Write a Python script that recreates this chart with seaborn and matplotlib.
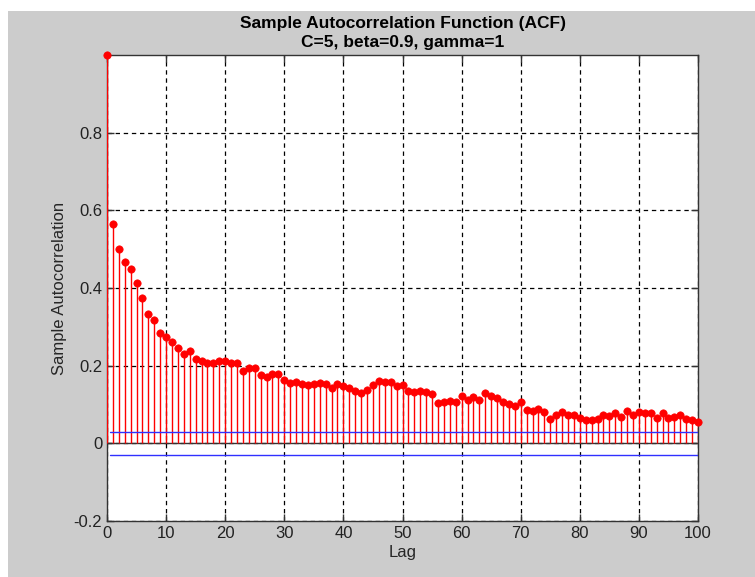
import numpy as np
import pandas as pd
import matplotlib
matplotlib.use("Agg")
import matplotlib.pyplot as plt
from matplotlib.patches import Rectangle
import seaborn as sns

lags = list(range(0, 101))
acf = [1.000,
       0.566, 0.500, 0.466, 0.448, 0.413, 0.374, 0.332, 0.318, 0.283, 0.273,
       0.262, 0.245, 0.230, 0.237, 0.217, 0.213, 0.206, 0.206, 0.213, 0.211,
       0.206, 0.206, 0.185, 0.193, 0.193, 0.176, 0.172, 0.179, 0.179, 0.163,
       0.155, 0.157, 0.152, 0.150, 0.152, 0.155, 0.153, 0.143, 0.152, 0.148,
       0.142, 0.136, 0.129, 0.138, 0.150, 0.161, 0.157, 0.157, 0.148, 0.150,
       0.135, 0.132, 0.136, 0.133, 0.126, 0.103, 0.106, 0.110, 0.107, 0.122,
       0.112, 0.120, 0.112, 0.129, 0.123, 0.116, 0.106, 0.102, 0.097, 0.107,
       0.086, 0.084, 0.088, 0.080, 0.062, 0.073, 0.080, 0.073, 0.073, 0.066,
       0.060, 0.059, 0.062, 0.073, 0.071, 0.078, 0.069, 0.084, 0.073, 0.080,
       0.078, 0.078, 0.065, 0.078, 0.065, 0.067, 0.073, 0.062, 0.059, 0.054]
bound = 0.0296
xticks = list(range(0, 101, 10))
yticks = [-0.2, 0, 0.2, 0.4, 0.6, 0.8]
ytick_labels = ["-0.2", "0", "0.2", "0.4", "0.6", "0.8"]
title = "Sample Autocorrelation Function (ACF)\nC=5, beta=0.9, gamma=1"

df = pd.DataFrame({"Lag": lags, "ACF": acf})

sns.set_theme(style="white")
plt.rcParams['font.family'] = ['Liberation Sans', 'DejaVu Sans']

fig = plt.figure(figsize=(7.55, 5.77), dpi=100, facecolor="white")
fig.patches.append(Rectangle((8 / 755, 0), 1 - 8 / 755, 1 - 11 / 577,
                             transform=fig.transFigure, facecolor="#cccccc",
                             edgecolor="none", zorder=-10))
ax = fig.add_axes([107 / 755, 1 - 521 / 577, (698 - 107) / 755, (521 - 55) / 577])
ax.set_facecolor("white")

# stems
ax.vlines(df["Lag"], 0, df["ACF"], colors="#ff0000", linewidth=1.0, zorder=3)
ax.axhline(0, color="#333333", linewidth=1.0, zorder=2.5)
sns.scatterplot(data=df, x="Lag", y="ACF", ax=ax, color="#ff0000", s=28,
                edgecolor="#ff0000", linewidth=0.5, zorder=4, clip_on=False)

# bounds
ax.plot([0.5, 100], [bound, bound], color="#3030ff", linewidth=1.0, zorder=3.5)
ax.plot([0.5, 100], [-bound, -bound], color="#3030ff", linewidth=1.0, zorder=3.5)

ax.set_xlim(0, 100)
ax.set_ylim(-0.2, 1.0)
ax.set_xticks(xticks)
ax.set_yticks(yticks)
ax.set_yticklabels(ytick_labels)
ax.grid(True, color="black", linestyle=(0, (3.5, 3)), linewidth=0.9)
ax.set_axisbelow(True)
ax.tick_params(direction="in", length=5, width=1, colors="#333333",
               labelcolor="#222222", labelsize=12, top=True, right=True, bottom=True, left=True)
for sp in ax.spines.values():
    sp.set_visible(True)
    sp.set_color("#333333")
    sp.set_linewidth(1.0)

ax.set_xlabel("Lag", fontsize=12, labelpad=3)
ax.set_ylabel("Sample Autocorrelation", fontsize=12, labelpad=5)
ax.set_title(title, fontsize=12.5, fontweight="bold", linespacing=1.3, pad=6,
             color="black")

fig.savefig("out.png", dpi=100, facecolor=fig.get_facecolor())
